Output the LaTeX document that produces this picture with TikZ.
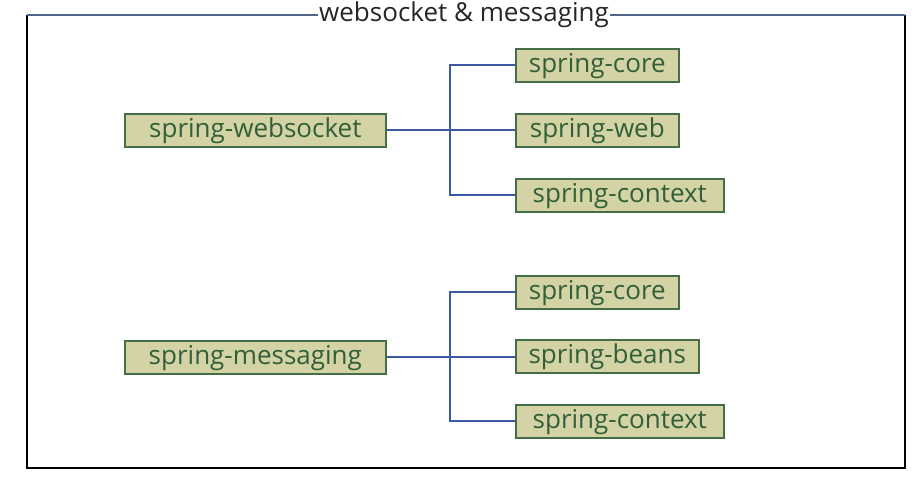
\documentclass[tikz,border=0pt]{standalone}
\usepackage{fontspec}
\setmainfont{Open Sans}
\definecolor{boxfill}{RGB}{211,211,166}
\definecolor{boxline}{RGB}{70,110,70}
\definecolor{boxtext}{RGB}{50,95,55}
\definecolor{bus}{RGB}{60,90,160}
\definecolor{topline}{RGB}{80,100,140}
\begin{document}
\begin{tikzpicture}[x=1pt,y=-1pt,
  mod/.style={draw=boxline,line width=1.6pt,fill=boxfill,text=boxtext,minimum height=33pt,inner sep=0pt,text height=20pt,text depth=5pt,anchor=north west,font=\fontsize{26}{28}\selectfont},
  conn/.style={draw=bus,line width=1.7pt}]
\useasboundingbox (0,0) rectangle (920,477);
\draw[line width=1.6pt] (27,15) -- (27,468) -- (905,468) -- (905,15);
\node[font=\fontsize{26}{28}\selectfont,text=black!85,inner sep=1pt] (title) at (464,15) {websocket \& messaging};
\draw[topline,line width=1.6pt] (27,15) -- (title.west);
\draw[topline,line width=1.6pt] (title.east) -- (905,15);
% group 1
\node[mod,minimum width=261pt] (ws) at (124,113) {spring-websocket};
\node[mod,minimum width=163pt] (c1) at (515,48) {spring-core};
\node[mod,minimum width=163pt] (w1) at (515,113) {spring-web};
\node[mod,minimum width=208pt] (x1) at (515,178) {spring-context};
\coordinate (b1) at (450,0);
\draw[conn] (ws.east) -- (w1.west |- ws.east);
\draw[conn] (c1.west) -| (b1 |- x1.west) -- (x1.west);
% group 2
\node[mod,minimum width=261pt] (ms) at (124,340) {spring-messaging};
\node[mod,minimum width=163pt] (c2) at (515,275) {spring-core};
\node[mod,minimum width=183pt] (be) at (515,339) {spring-beans};
\node[mod,minimum width=208pt] (x2) at (515,404) {spring-context};
\draw[conn] (ms.east) -- (be.west |- ms.east);
\draw[conn] (c2.west) -| (b1 |- x2.west) -- (x2.west);
\end{tikzpicture}
\end{document}
